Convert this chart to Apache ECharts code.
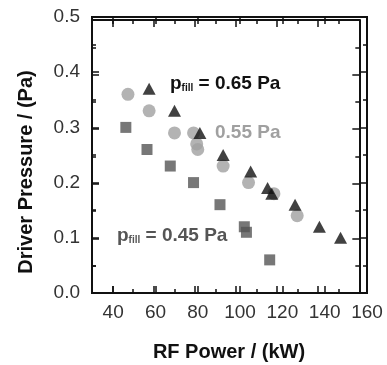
<!DOCTYPE html>
<html>
<head>
<meta charset="utf-8">
<script src="https://cdn.jsdelivr.net/npm/echarts@6/dist/echarts.min.js"></script>
<style>
  html, body { margin: 0; padding: 0; background: #fff; }
  #wrap { position: relative; width: 387px; height: 365px; }
  .layer { position: absolute; left: 0; top: 0; width: 387px; height: 365px; }
  .overlay { pointer-events: none; }
</style>
</head>
<body>
<div id="wrap">
  <div class="layer" id="chart"></div>
  <div class="layer overlay" id="frame"></div>
  <div class="layer overlay" id="minor"></div>
</div>
<script>
// p_fill = 0.65 Pa (triangles)
const power065 = [57, 69, 81, 92, 105, 113, 115, 126, 137.5, 147.5];
const pressure065 = [0.37, 0.33, 0.29, 0.25, 0.22, 0.19, 0.18, 0.16, 0.12, 0.10];
// p_fill = 0.55 Pa (circles)
const power055 = [47, 57, 69, 78, 79.5, 80, 92, 104, 116, 127];
const pressure055 = [0.36, 0.33, 0.29, 0.29, 0.27, 0.26, 0.23, 0.20, 0.18, 0.14];
// p_fill = 0.45 Pa (squares)
const power045 = [46, 56, 67, 78, 90.5, 102, 103, 114];
const pressure045 = [0.30, 0.26, 0.23, 0.20, 0.16, 0.12, 0.11, 0.06];

const xLabels = [40, 60, 80, 100, 120, 140, 160];
const xMajorTicks = [40, 60, 80, 100, 120, 140];
const xMinorTicks = [50, 70, 90, 110, 130, 150];

const pairs = (xs, ys) => xs.map((x, i) => [x, ys[i]]);

const black = '#111';
const font = 'Liberation Sans, Arial, sans-serif';
const clear = 'rgba(0,0,0,0)';

function grid(border) {
  return { left: 92, right: 20, top: 17, bottom: 72, show: border,
           borderColor: black, borderWidth: 2, backgroundColor: clear };
}

// big labels on the main chart, tiny invisible ones on the overlays
function labelStyle(big, extra) {
  return Object.assign(big
    ? { show: true, color: '#333', fontSize: 19, fontFamily: font }
    : { show: true, color: clear, fontSize: 12 }, extra);
}

function xAxisDef(position, ticks, len, line, label) {
  return {
    type: 'value', position: position, min: 30, max: 160,
    axisLine: { show: line, onZero: false, lineStyle: { color: black, width: 2 } },
    axisTick: { show: true, inside: true, length: len, customValues: ticks,
                lineStyle: { color: black, width: 1.5 } },
    axisLabel: label,
    splitLine: { show: false }
  };
}

function yAxisDef(position, ticks, label) {
  return {
    type: 'value', position: position, min: 0, max: 0.5, interval: 0.1,
    axisLine: { show: ticks, onZero: false, lineStyle: { color: black, width: 2 } },
    axisTick: { show: ticks, inside: true, length: 7, lineStyle: { color: black, width: 1.5 } },
    minorTick: { show: ticks, splitNumber: 2, length: 4, lineStyle: { color: black, width: 1.5 } },
    axisLabel: label,
    splitLine: { show: false },
    minorSplitLine: { show: false }
  };
}

function annot(x, y, color, withP, value) {
  return {
    type: 'text', x: x, y: y, z: 10,
    style: {
      text: (withP ? '{p|p}{s|fill}{b| = ' : '{b|') + value + '}',
      verticalAlign: 'middle',
      rich: {
        p: { fontSize: 19, fontWeight: 'bold', fill: color, fontFamily: font },
        s: { fontSize: 10, fontWeight: 'bold', fill: color, fontFamily: font, padding: [9, 0, 0, 0] },
        b: { fontSize: 19, fontWeight: 'bold', fill: color, fontFamily: font }
      }
    }
  };
}

const option = {
  animation: false,
  grid: grid(true),
  xAxis: [
    xAxisDef('bottom', xMajorTicks, 7, true,
             labelStyle(true, { customValues: xLabels, margin: 10 })),
    xAxisDef('top', xMajorTicks, 7, true, { show: false })
  ],
  yAxis: [
    yAxisDef('left', true, labelStyle(true, { margin: 12, formatter: v => v.toFixed(1) })),
    yAxisDef('right', true, { show: false })
  ],
  graphic: [
    annot(170, 84, black, true, '0.65 Pa'),
    annot(215, 133, '#a0a0a0', false, '0.55 Pa'),
    annot(117, 236, '#555', true, '0.45 Pa'),
    {
      type: 'text', x: 26, y: 172, rotation: Math.PI / 2,
      style: { text: 'Driver Pressure / (Pa)', align: 'center', verticalAlign: 'middle',
               fill: black, fontSize: 20, fontWeight: 'bold', fontFamily: font }
    },
    {
      type: 'text', x: 229, y: 352,
      style: { text: 'RF Power / (kW)', align: 'center', verticalAlign: 'middle',
               fill: black, fontSize: 20, fontWeight: 'bold', fontFamily: font }
    }
  ],
  series: [
    { name: '0.45 Pa', type: 'scatter', symbol: 'rect', symbolSize: 11,
      itemStyle: { color: '#555' }, data: pairs(power045, pressure045) },
    { name: '0.55 Pa', type: 'scatter', symbol: 'circle', symbolSize: 13,
      itemStyle: { color: '#a0a0a0' }, data: pairs(power055, pressure055) },
    { name: '0.65 Pa', type: 'scatter', symbol: 'triangle', symbolSize: [13, 12],
      itemStyle: { color: black }, data: pairs(power065, pressure065) }
  ]
};

// frame + major ticks, drawn again on a plain layer
const frameOption = {
  animation: false,
  grid: grid(false),
  xAxis: [
    xAxisDef('bottom', xMajorTicks, 7, true, labelStyle(false, {})),
    xAxisDef('top', xMajorTicks, 7, true, labelStyle(false, {}))
  ],
  yAxis: [
    yAxisDef('left', true, labelStyle(false, {})),
    yAxisDef('right', true, labelStyle(false, {}))
  ],
  series: [{ type: 'scatter', data: [] }]
};

// short ticks at 50, 70, ... on bottom and top
const minorOption = {
  animation: false,
  grid: grid(false),
  xAxis: [
    xAxisDef('bottom', xMinorTicks, 4, false, labelStyle(false, {})),
    xAxisDef('top', xMinorTicks, 4, false, labelStyle(false, {}))
  ],
  yAxis: [
    yAxisDef('left', false, labelStyle(false, {})),
    yAxisDef('right', false, labelStyle(false, {}))
  ],
  series: [{ type: 'scatter', data: [] }]
};

echarts.init(document.getElementById('chart')).setOption(option);
echarts.init(document.getElementById('frame')).setOption(frameOption);
echarts.init(document.getElementById('minor')).setOption(minorOption);
</script>
</body>
</html>
